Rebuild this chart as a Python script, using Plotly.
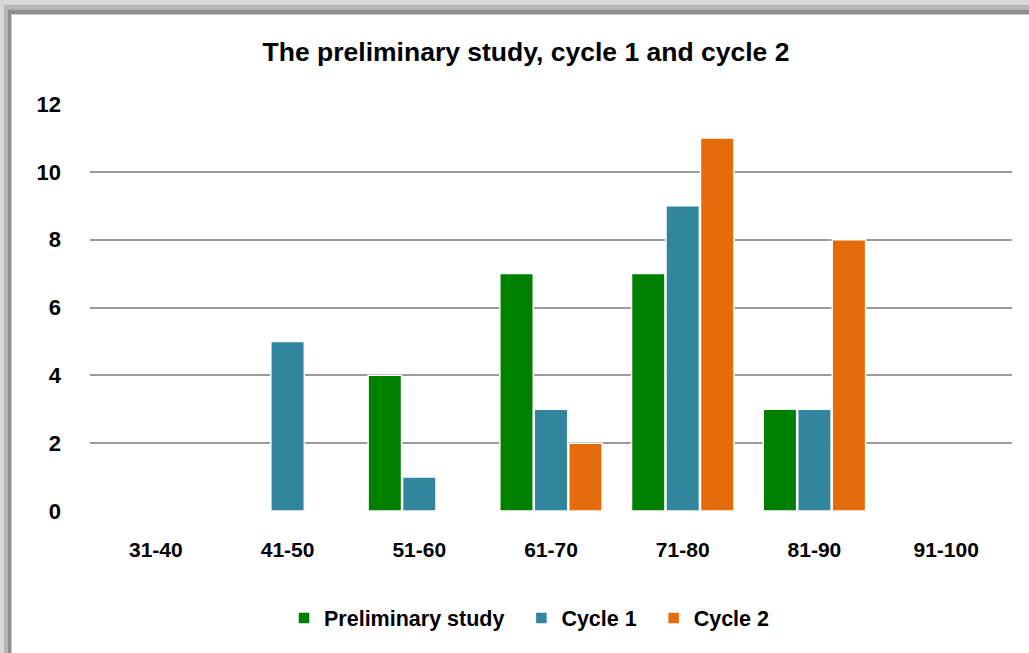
import plotly.graph_objects as go

categories = ["31-40", "41-50", "51-60", "61-70", "71-80", "81-90", "91-100"]
preliminary = [0, 0, 4, 7, 7, 3, 0]
cycle1 = [0, 5, 1, 3, 9, 3, 0]
cycle2 = [0, 0, 0, 2, 11, 8, 0]
series_names = ["Preliminary study", "Cycle 1", "Cycle 2"]
colors = ["#008000", "#31859C", "#E46C0A"]
title_text = "The preliminary study, cycle 1 and cycle 2"

W, H = 1029, 653
L, R, T, B = 90, 1012, 104, 511
pw, ph = R - L, B - T

FONT = "Liberation Sans, Arial, sans-serif"

fig = go.Figure()
for name, vals, col in zip(series_names, [preliminary, cycle1, cycle2], colors):
    fig.add_trace(go.Bar(
        x=categories, y=vals, name="<b>" + name + "</b>&nbsp;&nbsp;",
        marker=dict(color=col, line=dict(color="white", width=1.5)),
    ))

def px_x(px):
    return (px - L) / pw

def px_y(py):
    return (B - py) / ph

# frame: gray shadow border around white panel
shapes = []
for (x0, y0, c) in [(0, 0, "#d8d8d8"), (4, 5, "#b4b4b4"), (8, 10, "#8e8e8e"), (11, 14, "#c8c8c8"), (12, 15, "white")]:
    shapes.append(dict(type="rect", xref="paper", yref="paper",
                       x0=px_x(x0), x1=px_x(W + 5), y0=px_y(H + 5), y1=px_y(y0),
                       fillcolor=c, line=dict(width=0), layer="below"))

fig.update_layout(
    width=W, height=H,
    margin=dict(l=L, r=W - R, t=T, b=H - B, autoexpand=False),
    paper_bgcolor="#e6e6e6",
    plot_bgcolor="rgba(0,0,0,0)",
    shapes=shapes,
    barmode="group",
    bargap=0.215,
    bargroupgap=0.03,
    font=dict(family=FONT, color="black", size=21),
    title=dict(text="<b>" + title_text + "</b>", x=px_x(526), xref="paper", xanchor="center",
               y=1 - 52 / H, yref="container", yanchor="middle",
               font=dict(size=26.5, family=FONT, color="black")),
    xaxis=dict(showgrid=False, showline=False, ticks="",
               tickfont=dict(size=21, family=FONT),
               ticklabelstandoff=24, tickprefix="<b>", ticksuffix="</b>"),
    yaxis=dict(range=[0, 12], dtick=2, showgrid=True, gridcolor="#9a9a9a", gridwidth=2,
               zeroline=False, showline=False, ticks="",
               tickfont=dict(size=22, family=FONT),
               tickprefix="<b>", ticksuffix="</b>", ticklabelstandoff=28),
    legend=dict(orientation="h", x=px_x(535), xanchor="center", y=px_y(618), yanchor="middle",
                font=dict(size=21.5, family=FONT), itemwidth=30, tracegroupgap=0,
                bgcolor="rgba(0,0,0,0)"),
)

fig.write_html("out.html", config={"displayModeBar": False},
               post_script="document.body.style.margin='0';")
